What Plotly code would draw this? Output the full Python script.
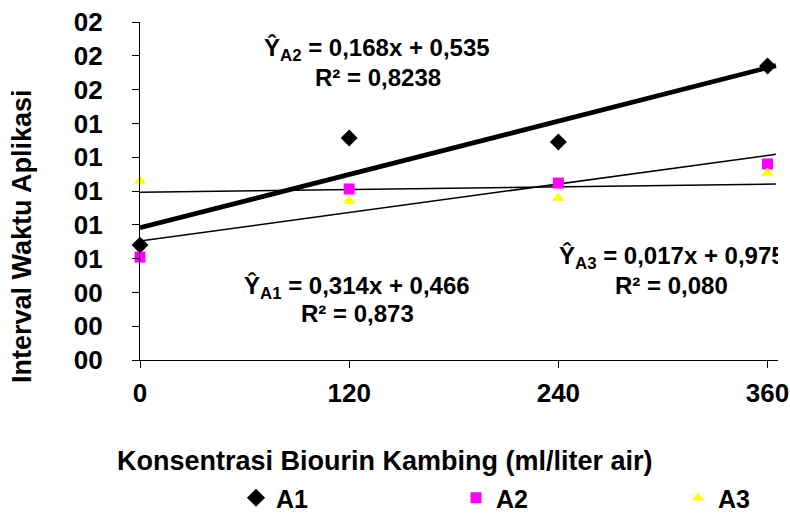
import numpy as np
import plotly.graph_objects as go

# ---------------- data ----------------
categories = ["0", "120", "240", "360"]
series_names = ["A1", "A2", "A3"]
a1_values = [0.680, 1.314, 1.290, 1.740]
a2_values = [0.609, 1.012, 1.047, 1.160]
a3_values = [1.059, 0.941, 0.959, 1.107]
ytick_vals = [0.0, 0.2, 0.4, 0.6, 0.8, 1.0, 1.2, 1.4, 1.6, 1.8, 2.0]
ytick_text = ["00", "00", "00", "01", "01", "01", "01", "01", "02", "02", "02"]
eq_lines = {
    "A1": ("Ŷ<sub>A1</sub> = 0,314x + 0,466", "R² = 0,873"),
    "A2": ("Ŷ<sub>A2</sub> = 0,168x + 0,535", "R² = 0,8238"),
    "A3": ("Ŷ<sub>A3</sub> = 0,017x + 0,975", "R² = 0,080"),
}
x_title = "Konsentrasi Biourin Kambing (ml/liter air)"
y_title = "Interval Waktu Aplikasi"

# ---------------- layout helpers ----------------
W, H = 790, 515
L, R, T, B = 140, 12, 22, 155
X_MAX = 4.05
TREND_END = 4.04


def px(x):
    return (x - L) / (W - L - R)


def py(y):
    return (H - B - y) / (H - T - B)


def dx(x):  # pixel -> data x
    return 1 + px(x) * (X_MAX - 1)


def dy(y):  # pixel -> data y
    return py(y) * 2.0


FONT = "Arial, Liberation Sans, sans-serif"
x_pos = list(range(1, len(categories) + 1))

colors = ["#000000", "#FF00FF", "#FFFF00"]
symbols = ["diamond", "square", "triangle-up"]
sizes = [13, 11, 11]
legend_sizes = [14, 11, 11]
trend_widths = [4.8, 1.5, 1.5]
values = [a1_values, a2_values, a3_values]
legend_ids = ["legend", "legend2", "legend3"]
legend_x_px = [236, 456, 678]

fig = go.Figure()

# trendlines (least-squares fit, as in the spreadsheet)
for vals, lw in zip(values, trend_widths):
    slope, intercept = np.polyfit(x_pos, vals, 1)
    xs = [x_pos[0], TREND_END]
    ys = [intercept + slope * xv for xv in xs]
    fig.add_trace(go.Scatter(x=xs, y=ys, mode="lines",
                             line=dict(color="#000000", width=lw),
                             showlegend=False, hoverinfo="skip"))

# data markers
for name, vals, c, s, sz in zip(series_names, values, colors, symbols, sizes):
    fig.add_trace(go.Scatter(x=x_pos, y=vals, mode="markers", name=name,
                             marker=dict(color=c, symbol=s, size=sz,
                                         line=dict(width=0)),
                             showlegend=False, cliponaxis=False))

# legend-only entries (one legend per series, spread along the bottom)
for name, c, s, sz, lid in zip(series_names, colors, symbols, legend_sizes,
                               legend_ids):
    fig.add_trace(go.Scatter(x=[None], y=[None], mode="markers", name=name,
                             marker=dict(color=c, symbol=s, size=sz,
                                         line=dict(width=0)),
                             showlegend=True, legend=lid))

EQ_SIZE = 24
ann_font = dict(family=FONT, size=EQ_SIZE, color="#000000", weight="bold")

# A3 equation first line is clipped by the plot area in the original
fig.add_trace(go.Scatter(x=[dx(559)], y=[dy(258)], mode="text",
                         text=[eq_lines["A3"][0]],
                         textposition="middle right",
                         textfont=ann_font, cliponaxis=True,
                         showlegend=False, hoverinfo="skip"))

annotations = [
    dict(x=px(377), y=py(50), text=eq_lines["A2"][0]),
    dict(x=px(378), y=py(78), text=eq_lines["A2"][1]),
    dict(x=px(357), y=py(287), text=eq_lines["A1"][0]),
    dict(x=px(357), y=py(313), text=eq_lines["A1"][1]),
    dict(x=px(671), y=py(285), text=eq_lines["A3"][1]),
]
for a in annotations:
    a.update(xref="paper", yref="paper", xanchor="center", yanchor="middle",
             showarrow=False, font=ann_font)

title_font = dict(family=FONT, size=27, color="#000000", weight="bold")
annotations.append(dict(x=px(385), y=py(461), xref="paper", yref="paper",
                        text=x_title, showarrow=False, xanchor="center",
                        yanchor="middle", font=title_font))
annotations.append(dict(x=px(22), y=py(236), xref="paper", yref="paper",
                        text=y_title, showarrow=False, textangle=-90,
                        xanchor="center", yanchor="middle", font=title_font))

tick_font = dict(family=FONT, size=26, color="#000000", weight="bold")
legend_font = dict(family=FONT, size=25, color="#000000", weight="bold")

layout_legends = {}
for lid, lx in zip(legend_ids, legend_x_px):
    layout_legends[lid] = dict(orientation="h", x=px(lx), y=py(498),
                               xanchor="left", yanchor="middle",
                               font=legend_font, bgcolor="rgba(0,0,0,0)")

fig.update_layout(
    width=W, height=H,
    margin=dict(l=L, r=R, t=T, b=B, pad=0, autoexpand=False),
    paper_bgcolor="#FFFFFF", plot_bgcolor="#FFFFFF",
    annotations=annotations,
    showlegend=True,
    xaxis=dict(range=[1, X_MAX], tickvals=x_pos, ticktext=categories,
               showgrid=False, zeroline=False, showline=True,
               linecolor="#000000", linewidth=1.2, ticks="outside",
               ticklen=7, tickcolor="#000000", tickwidth=1.2,
               tickfont=tick_font, ticklabelstandoff=3),
    yaxis=dict(range=[0, 2.0], tickvals=ytick_vals, ticktext=ytick_text,
               showgrid=False, zeroline=False, showline=True,
               linecolor="#000000", linewidth=1.2, ticks="outside",
               ticklen=7, tickcolor="#000000", tickwidth=1.2,
               tickfont=tick_font, ticklabelstandoff=24),
    **layout_legends,
)

fig.write_html("out.html")
